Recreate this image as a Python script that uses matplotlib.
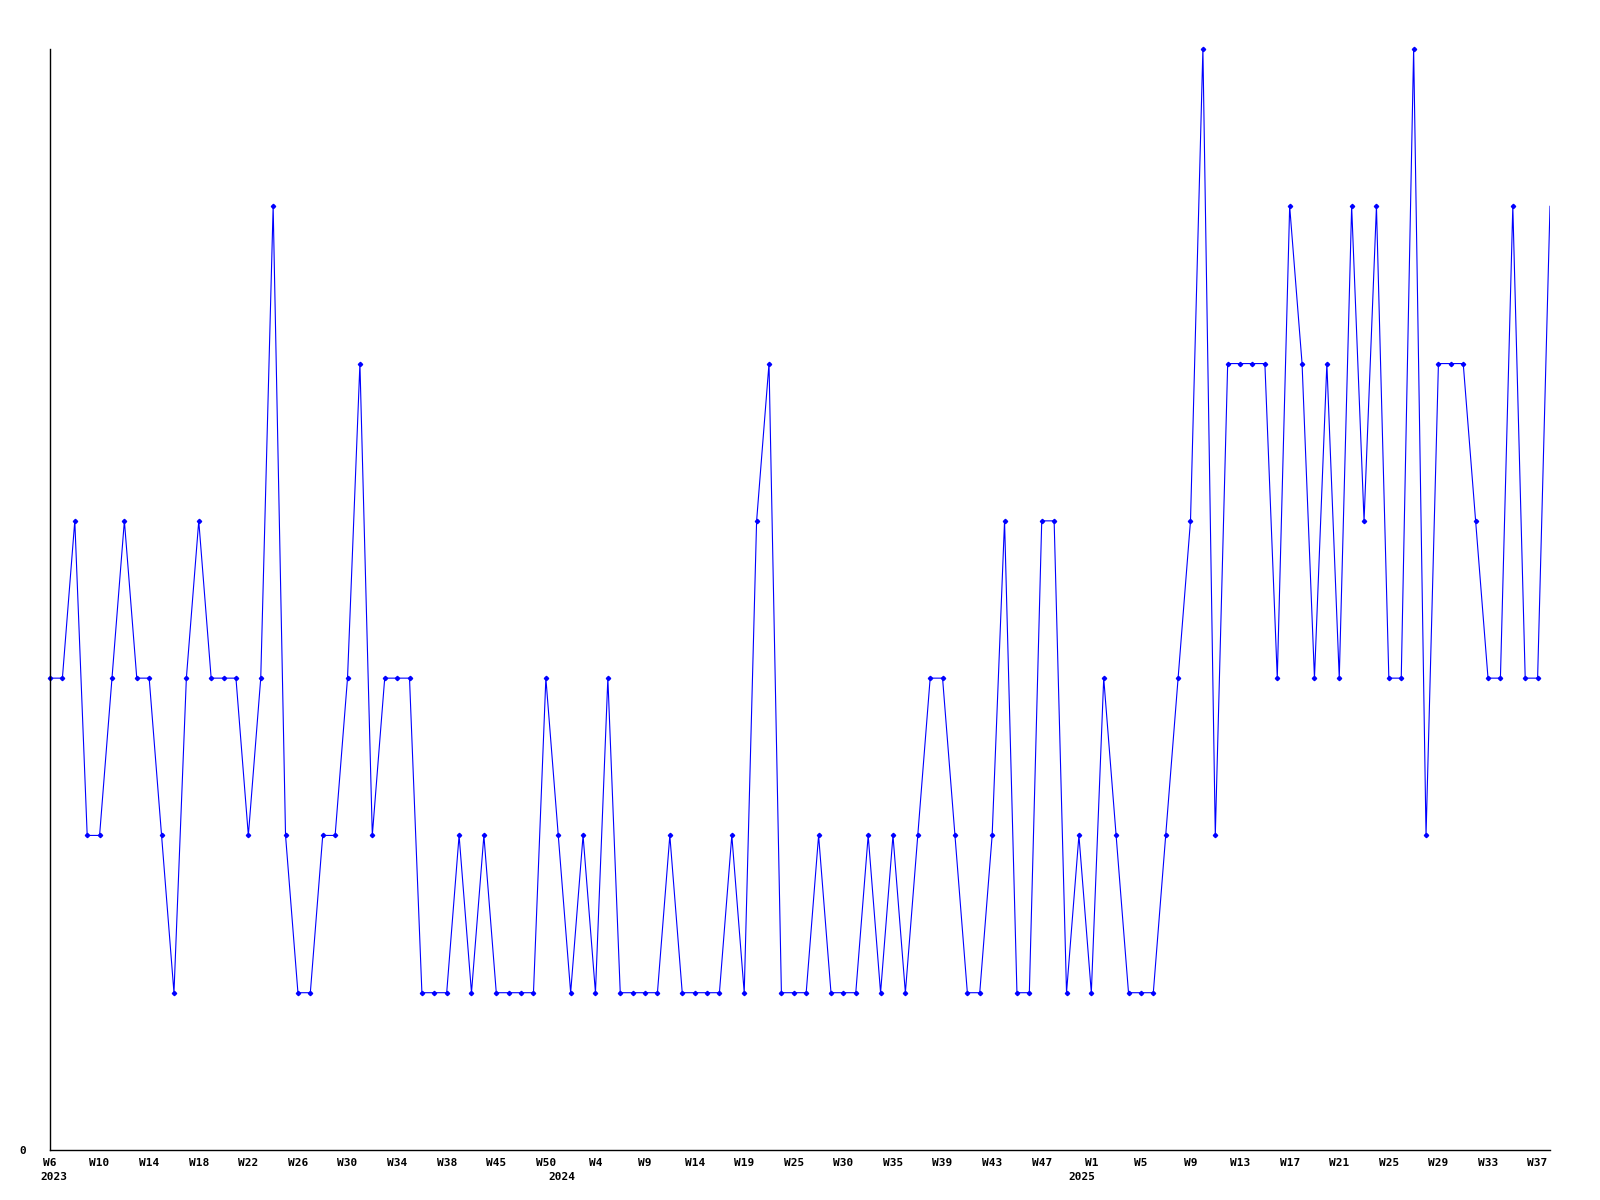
import matplotlib
matplotlib.use("Agg")
import matplotlib.pyplot as plt
import matplotlib.transforms as mtransforms

# weekly counts, one value per data point (categorical x)
values = [3, 3, 4, 2, 2, 3, 4, 3, 3, 2,
          1, 3, 4, 3, 3, 3, 2, 3, 6, 2,
          1, 1, 2, 2, 3, 5, 2, 3, 3, 3,
          1, 1, 1, 2, 1, 2, 1, 1, 1, 1,
          3, 2, 1, 2, 1, 3, 1, 1, 1, 1,
          2, 1, 1, 1, 1, 2, 1, 4, 5, 1,
          1, 1, 2, 1, 1, 1, 2, 1, 2, 1,
          2, 3, 3, 2, 1, 1, 2, 4, 1, 1,
          4, 4, 1, 2, 1, 3, 2, 1, 1, 1,
          2, 3, 4, 7, 2, 5, 5, 5, 5, 3,
          6, 5, 3, 5, 3, 6, 4, 6, 3, 3,
          7, 2, 5, 5, 5, 4, 3, 3, 6, 3,
          3, 6]

week_labels = ["W6", "W10", "W14", "W18", "W22", "W26", "W30", "W34", "W38", "W45",
               "W50", "W4", "W9", "W14", "W19", "W25", "W30", "W35", "W39", "W43",
               "W47", "W1", "W5", "W9", "W13", "W17", "W21", "W25", "W29", "W33",
               "W37"]
label_step = 4

years = ["2023", "2024", "2025"]
year_index = [0.3, 41.3, 83.2]

font = {"family": "DejaVu Sans Mono", "weight": "bold", "size": 8}

fig = plt.figure(figsize=(16, 12), dpi=100)
ax = fig.add_axes([50 / 1600, 50 / 1200, 1500 / 1600, 1101 / 1200])

x = list(range(len(values)))
ax.plot(x, values, color="#0000ff", linewidth=0.8)
ax.plot(x[:-1], values[:-1], linestyle="none", marker="D", markersize=2.2,
        color="#0000ff", clip_on=False)

ax.set_xlim(0, len(values) - 1)
ax.set_ylim(0, 7)

ax.set_xticks(range(0, len(values), label_step))
ax.set_xticklabels(week_labels, fontdict=font)
ax.set_yticks([0])
ax.set_yticklabels(["0"], fontdict=font)
ax.tick_params(axis="both", length=0)
ax.tick_params(axis="x", pad=6)
ax.tick_params(axis="y", pad=17)

trans = mtransforms.blended_transform_factory(ax.transData, ax.transAxes)
for yr, xi in zip(years, year_index):
    ax.text(xi, -27 / 1101, yr, transform=trans, ha="center", va="center", **font)

for side in ["top", "right"]:
    ax.spines[side].set_visible(False)
for side in ["left", "bottom"]:
    ax.spines[side].set_linewidth(1.0)
    ax.spines[side].set_color("black")

fig.savefig("out.png", dpi=100)
